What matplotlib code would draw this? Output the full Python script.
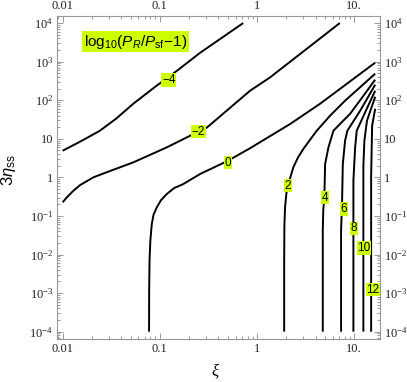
import matplotlib
matplotlib.use("Agg")
import matplotlib.pyplot as plt
from matplotlib.ticker import FixedLocator, LogLocator, NullFormatter

plt.rcParams['mathtext.fontset'] = 'custom'
plt.rcParams['mathtext.rm'] = 'Liberation Sans'
plt.rcParams['mathtext.it'] = 'Liberation Sans:italic'

# contour lines of log10(P_R/P_sf - 1) (xi, 3 eta_ss)
xi_m4 = [0.01, 0.0151, 0.024, 0.0354, 0.053, 0.093, 0.15, 0.26, 0.72]
eta_m4 = [4.9, 8.4, 16, 33, 80, 240, 580, 1700, 1e4]

xi_m2 = [0.01, 0.011, 0.0129, 0.0151, 0.0207, 0.0307, 0.0534, 0.118, 0.205, 0.25, 0.306,
         0.847, 1.36, 7.1]
eta_m2 = [0.225, 0.30, 0.45, 0.63, 1.0, 1.46, 2.45, 6.0, 12.0, 15.3, 19.7,
          176, 390, 1e4]

xi_0 = [0.0774, 0.0776, 0.0783, 0.0798, 0.0826, 0.0861, 0.093, 0.1028, 0.118, 0.140,
        0.175, 0.259, 0.503, 0.848, 2.19, 4.45, 16.4]
eta_0 = [1e-4, 1.2e-3, 7e-3, 0.0226, 0.062, 0.108, 0.167, 0.257, 0.371, 0.525,
         0.675, 1.22, 2.7, 5.7, 24.2, 81, 940]

xi_2 = [1.90, 1.90, 1.91, 1.94, 2.0, 2.10, 2.36, 2.63, 2.99, 4.11, 5.64, 8.04, 16.4]
eta_2 = [1e-4, 7e-3, 0.056, 0.167, 0.378, 0.675, 1.82, 3.24, 5.44, 16.2, 39.7, 97, 486]

xi_4 = [4.74, 4.74, 4.80, 4.92, 5.01, 5.42, 6.10, 9.06, 12.0, 16.4]
eta_4 = [1e-4, 0.0416, 0.15, 0.303, 2.22, 5.98, 16.2, 44.5, 116, 340]

xi_6 = [7.31, 7.31, 7.49, 7.62, 8.04, 8.49, 11.5, 16.4]
eta_6 = [1e-4, 0.04, 0.249, 2.22, 8.93, 16.2, 53.5, 252]

xi_8 = [9.79, 9.79, 10.2, 10.6, 13.2, 16.4]
eta_8 = [1e-4, 0.82, 5.98, 16.2, 54.4, 176]

xi_10 = [12.4, 12.4, 12.7, 13.5, 16.4]
eta_10 = [1e-4, 2.0, 8.9, 29.4, 123]

xi_12 = [14.9, 14.9, 15.25, 16.4]
eta_12 = [1e-4, 1.0, 21.8, 60]

# contour labels
label_text = ['\u22124', '\u22122', '0', '2', '4', '6', '8', '10', '12']
label_xi = [0.124, 0.25, 0.503, 2.08, 4.97, 7.86, 9.88, 12.6, 15.5]
label_eta = [330, 15.3, 2.4, 0.61, 0.30, 0.15, 0.0477, 0.0147, 1.23e-3]

xticks = [0.01, 0.1, 1, 10]
xtick_labels = ['0.01', '0.1', '1', '10.']
yticks = [1e-4, 1e-3, 1e-2, 1e-1, 1, 10, 1e2, 1e3, 1e4]
ytick_labels = [r'$\mathregular{10^{-4}}$', r'$\mathregular{10^{-3}}$', r'$\mathregular{10^{-2}}$',
                r'$\mathregular{10^{-1}}$', '1', '10', r'$\mathregular{10^{2}}$',
                r'$\mathregular{10^{3}}$', r'$\mathregular{10^{4}}$']

fig = plt.figure(figsize=(4.07, 3.82), dpi=100)
ax = fig.add_axes([0.1408, 0.1126, 0.793, 0.8463])

curves = [(xi_m4, eta_m4), (xi_m2, eta_m2), (xi_0, eta_0), (xi_2, eta_2), (xi_4, eta_4),
          (xi_6, eta_6), (xi_8, eta_8), (xi_10, eta_10), (xi_12, eta_12)]
for xs, ys in curves:
    ax.plot(xs, ys, color='black', lw=1.4, solid_capstyle='butt', solid_joinstyle='round')

for t, x, y in zip(label_text, label_xi, label_eta):
    ax.text(x, y, t, ha='center', va='center', fontsize=8.5, family='Liberation Sans',
            bbox=dict(boxstyle='square,pad=0.06', fc='#ccff00', ec='none'), zorder=5)

ax.text(0.243, 0.920, r'$\mathrm{log}_{10}(P_R/P_{\mathrm{sf}}\!-\!1)$', transform=ax.transAxes,
        ha='center', va='center', fontsize=11,
        bbox=dict(boxstyle='square,pad=0.1', fc='#ccff00', ec='none'), zorder=5)

ax.set_xscale('log')
ax.set_yscale('log')
ax.set_xlim(10 ** -2.055, 10 ** 1.265)
ax.set_ylim(10 ** -4.19, 10 ** 4.19)

ax.xaxis.set_major_locator(FixedLocator(xticks))
ax.set_xticklabels(xtick_labels)
ax.yaxis.set_major_locator(FixedLocator(yticks))
ax.set_yticklabels(ytick_labels)
ax.xaxis.set_minor_locator(LogLocator(base=10, subs=range(2, 10), numticks=20))
ax.yaxis.set_minor_locator(LogLocator(base=10, subs=range(2, 10), numticks=20))
ax.xaxis.set_minor_formatter(NullFormatter())
ax.yaxis.set_minor_formatter(NullFormatter())

ax.tick_params(which='both', direction='in', top=True, right=True, labeltop=True,
               labelright=True, color='#999999', width=0.7, labelsize=9,
               labelcolor='#222222', pad=3)
ax.tick_params(which='major', length=4)
ax.tick_params(which='minor', length=2)
for lab in ax.xaxis.get_ticklabels(which='major') + ax.yaxis.get_ticklabels(which='major'):
    lab.set_family('Liberation Serif')
for side in ax.spines.values():
    side.set_color('#999999')
    side.set_linewidth(0.8)

fig.text(0.528, 0.027, '\u03be', fontsize=12, family='Liberation Serif', style='italic',
         ha='center', va='center')
fig.text(0.022, 0.555, r'$3\eta_{\mathrm{ss}}$', fontsize=12, rotation=90,
         ha='center', va='center')

plt.savefig('out.png', dpi=100)
